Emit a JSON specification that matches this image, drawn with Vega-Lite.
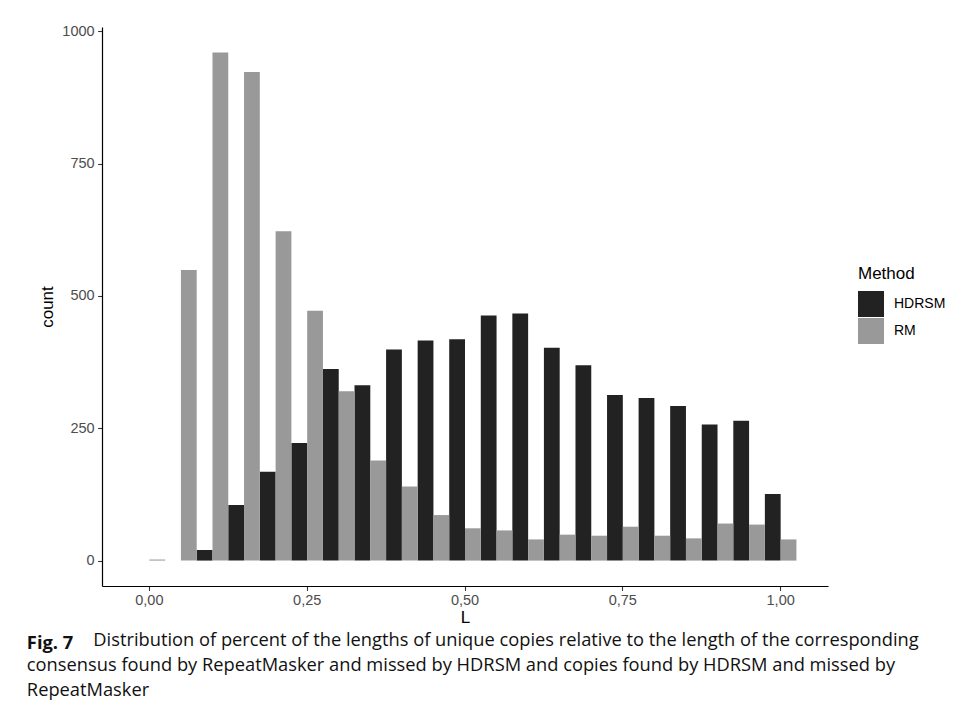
{
  "$schema": "https://vega.github.io/schema/vega-lite/v6.json",
  "width": 726,
  "height": 559,
  "autosize": {"type": "none"},
  "padding": {"left": 102, "top": 27, "right": 130, "bottom": 128},
  "background": "white",
  "data": {
    "values": [
      {"L": 0, "Method": "HDRSM", "count": 0},
      {"L": 0.05, "Method": "HDRSM", "count": 0},
      {"L": 0.1, "Method": "HDRSM", "count": 20},
      {"L": 0.15, "Method": "HDRSM", "count": 105},
      {"L": 0.2, "Method": "HDRSM", "count": 168},
      {"L": 0.25, "Method": "HDRSM", "count": 222},
      {"L": 0.3, "Method": "HDRSM", "count": 362},
      {"L": 0.35, "Method": "HDRSM", "count": 331},
      {"L": 0.4, "Method": "HDRSM", "count": 399},
      {"L": 0.45, "Method": "HDRSM", "count": 416},
      {"L": 0.5, "Method": "HDRSM", "count": 418},
      {"L": 0.55, "Method": "HDRSM", "count": 463},
      {"L": 0.6, "Method": "HDRSM", "count": 467},
      {"L": 0.65, "Method": "HDRSM", "count": 402},
      {"L": 0.7, "Method": "HDRSM", "count": 369},
      {"L": 0.75, "Method": "HDRSM", "count": 313},
      {"L": 0.8, "Method": "HDRSM", "count": 307},
      {"L": 0.85, "Method": "HDRSM", "count": 292},
      {"L": 0.9, "Method": "HDRSM", "count": 257},
      {"L": 0.95, "Method": "HDRSM", "count": 264},
      {"L": 1, "Method": "HDRSM", "count": 126},
      {"L": 0, "Method": "RM", "count": 2},
      {"L": 0.05, "Method": "RM", "count": 549},
      {"L": 0.1, "Method": "RM", "count": 960},
      {"L": 0.15, "Method": "RM", "count": 923},
      {"L": 0.2, "Method": "RM", "count": 622},
      {"L": 0.25, "Method": "RM", "count": 472},
      {"L": 0.3, "Method": "RM", "count": 320},
      {"L": 0.35, "Method": "RM", "count": 189},
      {"L": 0.4, "Method": "RM", "count": 140},
      {"L": 0.45, "Method": "RM", "count": 86},
      {"L": 0.5, "Method": "RM", "count": 61},
      {"L": 0.55, "Method": "RM", "count": 57},
      {"L": 0.6, "Method": "RM", "count": 40},
      {"L": 0.65, "Method": "RM", "count": 49},
      {"L": 0.7, "Method": "RM", "count": 47},
      {"L": 0.75, "Method": "RM", "count": 64},
      {"L": 0.8, "Method": "RM", "count": 47},
      {"L": 0.85, "Method": "RM", "count": 42},
      {"L": 0.9, "Method": "RM", "count": 70},
      {"L": 0.95, "Method": "RM", "count": 68},
      {"L": 1, "Method": "RM", "count": 40}
    ]
  },
  "mark": {"type": "bar"},
  "encoding": {
    "x": {
      "field": "L",
      "type": "ordinal",
      "scale": {"paddingInner": 0, "paddingOuter": 1.035},
      "axis": {
        "values": [0, 0.25, 0.5, 0.75, 1],
        "labelExpr": "replace(format(datum.value, '.2f'), '.', ',')",
        "labelAngle": 0,
        "title": "L",
        "titlePadding": 2
      }
    },
    "xOffset": {
      "field": "Method",
      "type": "nominal",
      "sort": ["HDRSM", "RM"],
      "scale": {"paddingInner": 0, "paddingOuter": 0}
    },
    "y": {
      "field": "count",
      "type": "quantitative",
      "stack": null,
      "scale": {"domain": [-48, 1008], "nice": false, "zero": false},
      "axis": {
        "values": [0, 250, 500, 750, 1000],
        "format": "d",
        "title": "count",
        "titlePadding": 5
      }
    },
    "color": {
      "field": "Method",
      "type": "nominal",
      "scale": {"domain": ["HDRSM", "RM"], "range": ["#222222", "#999999"]},
      "legend": {
        "title": "Method",
        "orient": "none",
        "legendX": 756,
        "legendY": 239,
        "padding": 0,
        "symbolType": "square",
        "symbolSize": 676,
        "symbolStrokeWidth": 0,
        "symbolOpacity": 1,
        "rowPadding": 1,
        "labelOffset": 10,
        "titlePadding": 8,
        "titleFont": "Liberation Sans",
        "titleFontSize": 17,
        "titleFontWeight": "normal",
        "titleColor": "#000000",
        "labelFont": "Liberation Sans",
        "labelFontSize": 14,
        "labelColor": "#000000"
      }
    }
  },
  "title": {
    "text": "Fig. 7",
    "subtitle": [
      "\u200b\u00a0\u00a0\u00a0\u00a0\u00a0\u00a0\u00a0\u00a0\u00a0\u00a0\u00a0\u00a0\u00a0\u00a0Distribution of percent of the lengths of unique copies relative to the length of the corresponding",
      "consensus found by RepeatMasker and missed by HDRSM and copies found by HDRSM and missed by",
      "RepeatMasker"
    ],
    "orient": "bottom",
    "anchor": "start",
    "frame": "bounds",
    "offset": 10,
    "dx": -12,
    "font": "Open Sans",
    "fontSize": 18.3,
    "fontWeight": "bold",
    "color": "#111111",
    "subtitleFont": "Open Sans",
    "subtitleFontSize": 18.3,
    "subtitleFontWeight": "normal",
    "subtitleColor": "#111111",
    "subtitlePadding": -21.5,
    "subtitleLineHeight": 25
  },
  "config": {
    "view": {"stroke": null},
    "axis": {
      "grid": false,
      "domainColor": "#000000",
      "domainWidth": 1.2,
      "tickColor": "#333333",
      "tickSize": 4.4,
      "tickWidth": 1.1,
      "labelFont": "Liberation Sans",
      "labelFontSize": 14.5,
      "labelColor": "#4d4d4d",
      "labelPadding": 3.5,
      "titleFont": "Liberation Sans",
      "titleFontSize": 17,
      "titleFontWeight": "normal",
      "titleColor": "#000000"
    }
  }
}
